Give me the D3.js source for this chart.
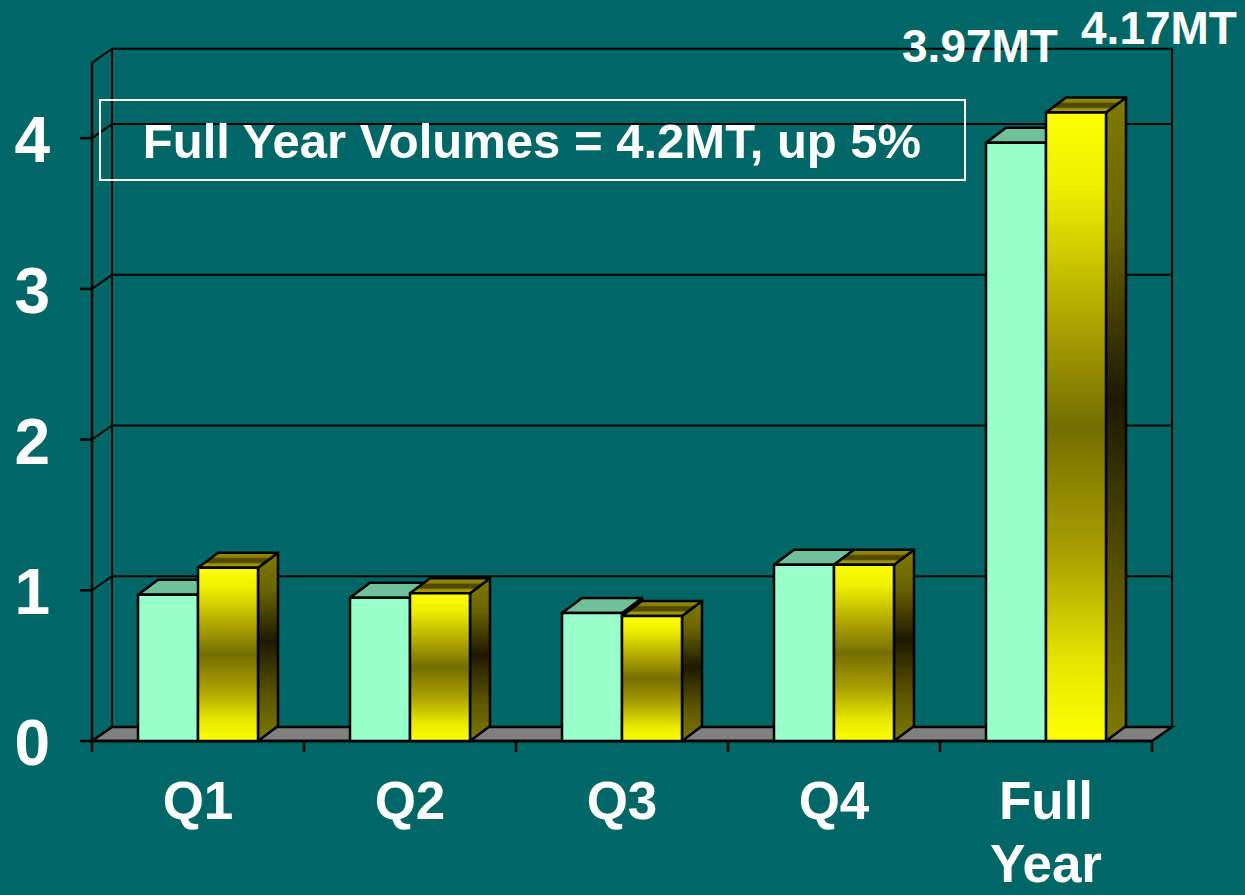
<!DOCTYPE html>
<html>
<head>
<meta charset="utf-8">
<script src="https://cdn.jsdelivr.net/npm/d3@7"></script>
<style>
  html, body { margin: 0; padding: 0; background: #006666; }
  svg { display: block; }
  text { font-family: "Liberation Sans", Arial, sans-serif; font-weight: bold; fill: #ffffff; }
</style>
</head>
<body>
<svg id="chart" width="1245" height="895"></svg>
<script>
// ---- data ----
const categories = ["Q1", "Q2", "Q3", "Q4", "Full Year"];
const seriesNames = ["Prior Year", "Current Year"];
const priorValues = [0.97, 0.95, 0.85, 1.17, 3.97];
const currentValues = [1.15, 0.98, 0.83, 1.17, 4.17];
const yTicks = [0, 1, 2, 3, 4];
const valueLabels = ["3.97MT", "4.17MT"];
const annotationText = "Full Year Volumes = 4.2MT, up 5%";

// ---- layout ----
const svg = d3.select("#chart");
const W = 1245, H = 895;
svg.append("rect").attr("width", W).attr("height", H).attr("fill", "#006666");

const x0 = 92, x1 = 1152;
const wallDx = 20, wallDy = -14;
const barDx = 20, barDy = -15;

const x = d3.scaleBand().domain(categories).range([x0, x1]).paddingInner(0).paddingOuter(0);
const xs = d3.scaleBand().domain(seriesNames).range([46, 166]);
const y = d3.scaleLinear().domain([0, 4.5]).range([741, 62.75]);

const defs = svg.append("defs");
const gFront = defs.append("linearGradient").attr("id", "yFront").attr("x1", 0).attr("y1", 0).attr("x2", 0).attr("y2", 1);
[[0, "#ffff00"], [0.12, "#eeee00"], [0.3, "#b8b000"], [0.5, "#756e00"], [0.7, "#a8a000"], [0.88, "#e8e800"], [1, "#ffff00"]]
  .forEach(([o, c]) => gFront.append("stop").attr("offset", o).attr("stop-color", c));
const gSide = defs.append("linearGradient").attr("id", "ySide").attr("x1", 0).attr("y1", 0).attr("x2", 0).attr("y2", 1);
[[0, "#807a00"], [0.2, "#6a6400"], [0.47, "#1e1800"], [0.75, "#5a5400"], [1, "#807a00"]]
  .forEach(([o, c]) => gSide.append("stop").attr("offset", o).attr("stop-color", c));
const gTop = defs.append("linearGradient").attr("id", "yTop").attr("x1", 0).attr("y1", 0).attr("x2", 0).attr("y2", 1);
[[0, "#938c00"], [0.3, "#8a8200"], [0.4, "#524a00"], [0.65, "#524a00"], [0.75, "#9a9400"], [1, "#a8a200"]]
  .forEach(([o, c]) => gTop.append("stop").attr("offset", o).attr("stop-color", c));

// ---- back wall gridlines ----
const wall = svg.append("g").attr("stroke", "#000").attr("stroke-width", 2).attr("fill", "none");
yTicks.filter(v => v > 0).forEach(v => {
  wall.append("line").attr("x1", x0 + wallDx).attr("x2", x1 + wallDx)
    .attr("y1", y(v) + wallDy).attr("y2", y(v) + wallDy);
});
const yTop = y(4.5);
wall.append("line").attr("x1", x0 + wallDx).attr("x2", x1 + wallDx).attr("y1", yTop + wallDy).attr("y2", yTop + wallDy);
wall.append("line").attr("x1", x0 + wallDx).attr("x2", x0 + wallDx).attr("y1", yTop + wallDy).attr("y2", y(0) + wallDy);
wall.append("line").attr("x1", x1 + wallDx).attr("x2", x1 + wallDx).attr("y1", yTop + wallDy).attr("y2", y(0) + wallDy);
[...yTicks, 4.5].forEach(v => {
  wall.append("line").attr("x1", x0).attr("y1", y(v)).attr("x2", x0 + wallDx).attr("y2", y(v) + wallDy);
});

// ---- floor ----
svg.append("polygon")
  .attr("points", [[x0, y(0)], [x1, y(0)], [x1 + wallDx, y(0) + wallDy], [x0 + wallDx, y(0) + wallDy]].map(p => p.join(",")).join(" "))
  .attr("fill", "#808080").attr("stroke", "#000").attr("stroke-width", 2.5);

// ---- axes (front) ----
const axis = svg.append("g").attr("stroke", "#000").attr("stroke-width", 2.5);
axis.append("line").attr("x1", x0).attr("x2", x0).attr("y1", yTop).attr("y2", y(0) + 11);
axis.append("line").attr("x1", x0).attr("x2", x1).attr("y1", y(0)).attr("y2", y(0));
yTicks.forEach(v => axis.append("line").attr("x1", x0 - 12).attr("x2", x0).attr("y1", y(v)).attr("y2", y(v)));
categories.forEach(c => axis.append("line").attr("x1", x(c) + x.bandwidth()).attr("x2", x(c) + x.bandwidth())
  .attr("y1", y(0)).attr("y2", y(0) + 11));

// ---- bars ----
const bars = svg.append("g").attr("stroke", "#000").attr("stroke-width", 2.5).attr("stroke-linejoin", "round");
function drawBar(cx, w, v, front, top, side) {
  const yt = y(v), yb = y(0);
  const g = bars.append("g");
  g.append("polygon").attr("points", [[cx + w, yt], [cx + w + barDx, yt + barDy], [cx + w + barDx, yb + barDy], [cx + w, yb]].map(p => p.join(",")).join(" "))
    .attr("fill", side);
  g.append("polygon").attr("points", [[cx, yt], [cx + barDx, yt + barDy], [cx + w + barDx, yt + barDy], [cx + w, yt]].map(p => p.join(",")).join(" "))
    .attr("fill", top);
  g.append("rect").attr("x", cx).attr("y", yt).attr("width", w).attr("height", yb - yt).attr("fill", front);
}
categories.forEach((c, i) => {
  drawBar(x(c) + xs(seriesNames[0]), xs.bandwidth(), priorValues[i], "#99ffcc", "#70c09a", "#66aa88");
  drawBar(x(c) + xs(seriesNames[1]), xs.bandwidth(), currentValues[i], "url(#yFront)", "url(#yTop)", "url(#ySide)");
});

// ---- tick labels ----
yTicks.forEach(v => {
  svg.append("text").attr("x", 50).attr("y", y(v) + 24).attr("text-anchor", "end")
    .attr("font-size", 64).text(v);
});
categories.forEach(c => {
  const words = c.split(" ");
  const t = svg.append("text").attr("x", x(c) + x.bandwidth() / 2).attr("y", 819)
    .attr("text-anchor", "middle").attr("font-size", 53);
  words.forEach((wd, k) => t.append("tspan").attr("x", x(c) + x.bandwidth() / 2).attr("dy", k === 0 ? 0 : 63).text(wd));
});

// ---- value labels for Full Year ----
const fy = categories[4];
svg.append("text").attr("x", x(fy) + xs(seriesNames[0]) + xs.bandwidth() / 2 - 36).attr("y", 62)
  .attr("text-anchor", "middle").attr("font-size", 46).text(valueLabels[0]);
svg.append("text").attr("x", x(fy) + xs(seriesNames[1]) + xs.bandwidth() / 2 + 83).attr("y", 44)
  .attr("text-anchor", "middle").attr("font-size", 46).text(valueLabels[1]);

// ---- annotation box ----
svg.append("rect").attr("x", 100).attr("y", 100).attr("width", 865).attr("height", 80)
  .attr("fill", "none").attr("stroke", "#ffffff").attr("stroke-width", 2);
svg.append("text").attr("x", 532).attr("y", 158).attr("text-anchor", "middle")
  .attr("font-size", 49).text(annotationText);
</script>
</body>
</html>
